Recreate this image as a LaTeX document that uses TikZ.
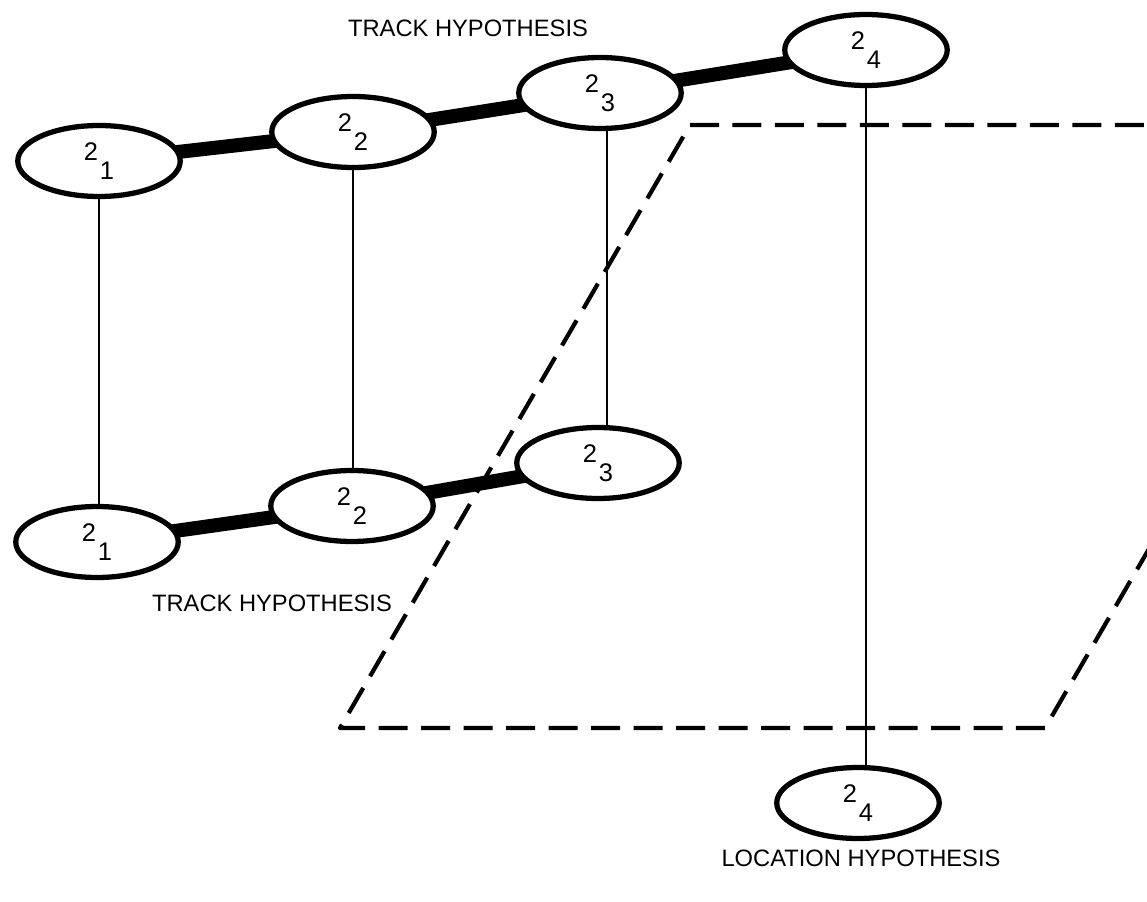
\documentclass[tikz,border=0pt]{standalone}
\usepackage{fontspec}
\setmainfont{Liberation Sans}
\usetikzlibrary{shapes.geometric}
\pgfdeclarelayer{background}
\pgfsetlayers{background,main}

\newcommand{\hyp}[1]{2\kern1pt\raisebox{-11pt}{#1}}

\tikzset{
  hypnode/.style={ellipse, draw, fill=white, line width=3pt,
    minimum width=3.25cm, minimum height=1.42cm, inner sep=0pt,
    font=\fontsize{14.5}{14}\selectfont},
  trackbar/.style={line width=8pt},
  tie/.style={line width=1.2pt},
  plane/.style={line width=2.4pt, dash pattern=on 0.58cm off 0.27cm, line join=round},
  caption/.style={font=\fontsize{13.5}{14}\selectfont, inner sep=0pt}
}

\begin{document}
\begin{tikzpicture}[x=0.02cm, y=-0.02cm]
  \useasboundingbox (0,0) rectangle (1147,902);

  % upper track hypothesis
  \node[hypnode] (t1) at (99,161) {\hyp{1}};
  \node[hypnode] (t2) at (353,132) {\hyp{2}};
  \node[hypnode] (t3) at (600,93) {\hyp{3}};
  \node[hypnode] (t4) at (866,50) {\hyp{4}};

  % lower track hypothesis
  \node[hypnode] (b1) at (97,542) {\hyp{1}};
  \node[hypnode] (b2) at (352,506) {\hyp{2}};
  \node[hypnode] (b3) at (598,463) {\hyp{3}};

  % location hypothesis below the plane
  \node[hypnode] (b4) at (858,803) {\hyp{4}};

  % captions
  \node[caption] (captop) at (468,28) {TRACK HYPOTHESIS};
  \node[caption] (capbot) at (272,603) {TRACK HYPOTHESIS};
  \node[caption] (caploc) at (861,858) {LOCATION HYPOTHESIS};

  % white page, dashed plane and thick track links, behind the ellipses
  \begin{pgfonlayer}{background}
    \fill[white] (0,0) rectangle (1147,902);
    \begin{scope}
      \clip (0,0) rectangle (1147,902);
      \coordinate (p1) at (690,125);
      \coordinate (p2) at (1395,125);
      \coordinate (p3) at (1045,728);
      \coordinate (p4) at (340,728);
      \draw[plane] (p1) -- (p2) -- (p3) -- (p4) -- cycle;
    \end{scope}
    \draw[trackbar] (t1.center) -- (t2.center) -- (t3.center) -- (t4.center);
    \draw[trackbar] (b1.center) -- (b2.center) -- (b3.center);
  \end{pgfonlayer}

  % vertical ties between corresponding hypotheses
  \draw[tie] (t1.south) -- (t1.south |- b1.north);
  \draw[tie] (t2.south) -- (t2.south |- b2.north);
  \draw[tie] ([xshift=4pt]t3.south) -- ([xshift=4pt]t3.south |- b3.north);
  \draw[tie] (t4.south) -- (t4.south |- b4.north);
\end{tikzpicture}
\end{document}
